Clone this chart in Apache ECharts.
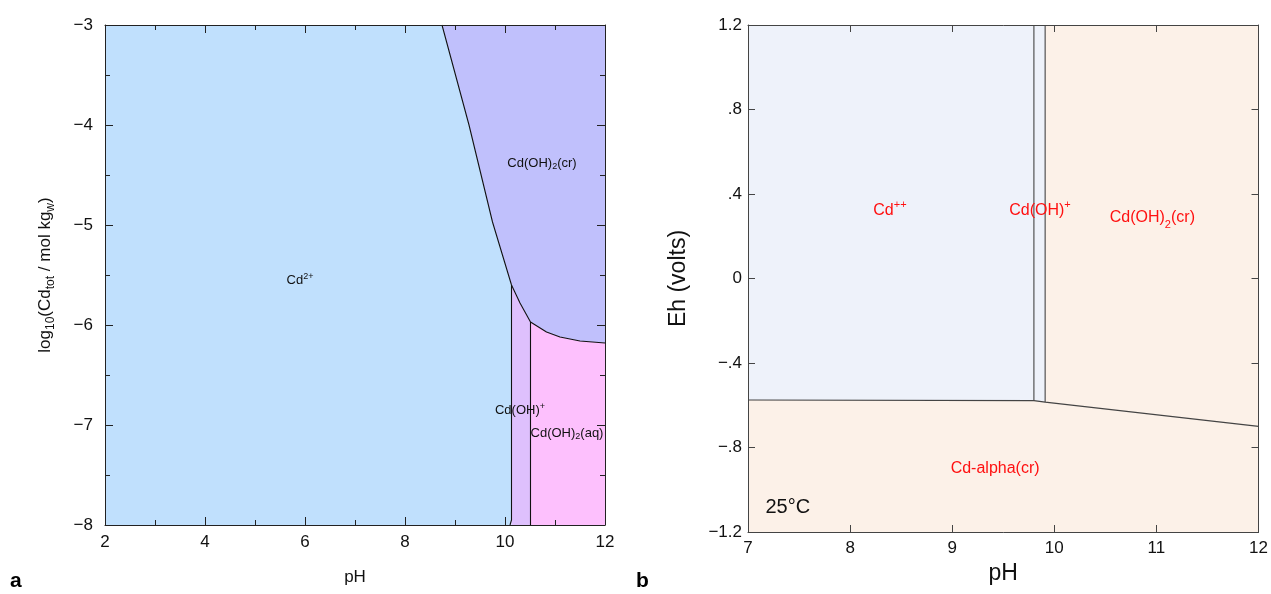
<!DOCTYPE html>
<html>
<head>
<meta charset="utf-8">
<script src="https://cdn.jsdelivr.net/npm/echarts@6/dist/echarts.min.js"></script>
<style>
html,body{margin:0;padding:0;background:#fff;}
#c{width:1271px;height:594px;}
</style>
</head>
<body>
<div id="c"></div>
<script>
// ---------- Panel a : log10(Cd_tot) vs pH ----------
const aXRange = [2, 12];
const aYRange = [-8, -3];
// upper boundary (solubility of Cd(OH)2(cr))
const aSolubility = [[8.74,-3],[9.28,-4],[9.75,-4.97],[10.13,-5.6],[10.3,-5.78],[10.51,-5.97],[10.83,-6.07],[11.1,-6.12],[11.5,-6.16],[12,-6.18]];
// Cd2+ | Cd(OH)+ boundary
const aCdOHplusLeft = [[10.13,-5.6],[10.13,-7.95],[10.1,-8]];
// Cd(OH)+ | Cd(OH)2(aq) boundary
const aCdOHplusRight = [[10.51,-5.97],[10.51,-8]];

// ---------- Panel b : Eh vs pH ----------
const bXRange = [7, 12];
const bYRange = [-1.2, 1.2];
const bBoundCdPP = [[9.80,1.2],[9.80,-0.578]];
const bBoundCdOH = [[9.91,1.2],[9.91,-0.585]];
const bBoundMetal = [[7,-0.575],[9.80,-0.578],[9.91,-0.585],[12,-0.70]];

// regions built from the arrays above
const iKink = 3, iAq = 5;
const aRegions = [
  {color:'#C0E0FD', pts: [[2,-3]].concat(aSolubility.slice(0,iKink+1)).concat([[10.13,-8],[2,-8]])},
  {color:'#C0C0FC', pts: aSolubility.concat([[12,-3]])},
  {color:'#DEC0FD', pts: aSolubility.slice(iKink,iAq+1).concat([[10.51,-8],[10.13,-8]])},
  {color:'#FDC0FD', pts: aSolubility.slice(iAq).concat([[12,-8],[10.51,-8]])}
];
const bRegions = [
  {color:'#EEF2FA', pts: [[7,1.2],bBoundCdOH[0],bBoundCdOH[1],bBoundMetal[1],bBoundMetal[0]]},
  {color:'#FCF1E8', pts: [bBoundCdOH[0],[12,1.2],bBoundMetal[3],bBoundMetal[2]]},
  {color:'#FCF1E8', pts: bBoundMetal.concat([[12,-1.2],[7,-1.2]])}
];

const FONT = '"Liberation Sans", Arial, Helvetica, sans-serif';
const minusFmt = v => (v < 0 ? '\u2212' + Math.abs(v) : String(v));
const dotFmt = v => {
  const r = Math.round(v*10)/10;
  if (r === 0) return '0';
  const s = Math.abs(r).toString().replace(/^0\./,'.');
  return (r < 0 ? '\u2212' : '') + s;
};

function polySeries(regions, xi) {
  return {
    type:'custom', xAxisIndex:xi, yAxisIndex:xi, silent:true, z:1,
    data: regions.map((r,i)=>[r.pts[0][0], r.pts[0][1], i]),
    renderItem: (params, api) => {
      const r = regions[params.dataIndex];
      return {type:'polygon', shape:{points: r.pts.map(p=>api.coord(p))}, style:{fill:r.color, stroke:null}};
    }
  };
}
function lineSeries(data, xi, color) {
  return {type:'line', xAxisIndex:xi, yAxisIndex:xi, data:data, showSymbol:false, symbol:'none',
    silent:true, z:3, lineStyle:{color:color, width:1.1}, animation:false};
}
function labelSeries(items, xi, color, size, rich) {
  return {type:'scatter', xAxisIndex:xi, yAxisIndex:xi, symbolSize:0, silent:true, z:5,
    itemStyle:{opacity:1},
    data: items.map(it=>({value:it.at, name:it.text})),
    label:{show:true, position:'inside', formatter: p=>p.name, color:color, fontSize:size, fontFamily:FONT, rich:rich, opacity:1}};
}

const richA = {
  n:{fontSize:13, color:'#111', fontFamily:FONT, lineHeight:18, verticalAlign:'middle'},
  sup:{fontSize:9, color:'#111', fontFamily:FONT, lineHeight:18, verticalAlign:'top', padding:[1,0,0,0]},
  sub:{fontSize:9, color:'#111', fontFamily:FONT, lineHeight:18, verticalAlign:'bottom', padding:[0,0,1,0]}
};
const RED = '#FF1010';
const richB = {
  n:{fontSize:16, color:RED, fontFamily:FONT, lineHeight:24, verticalAlign:'middle'},
  sup:{fontSize:11, color:RED, fontFamily:FONT, lineHeight:24, verticalAlign:'top', padding:[1,0,0,0]},
  sub:{fontSize:11, color:RED, fontFamily:FONT, lineHeight:24, verticalAlign:'bottom', padding:[0,0,0,0]}
};

const aLabels = [
  {at:[5.9,-5.55], text:'{n|Cd}{sup|2+}'},
  {at:[10.74,-4.38], text:'{n|Cd(OH)}{sub|2}{n|(cr)}'},
  {at:[10.3,-6.85], text:'{n|Cd(OH)}{sup|+}'},
  {at:[11.24,-7.08], text:'{n|Cd(OH)}{sub|2}{n|(aq)}'}
];
const bLabels = [
  {at:[8.39,0.32], text:'{n|Cd}{sup|++}'},
  {at:[9.86,0.32], text:'{n|Cd(OH)}{sup|+}'},
  {at:[10.96,0.286], text:'{n|Cd(OH)}{sub|2}{n|(cr)}'},
  {at:[9.42,-0.90], text:'{n|Cd-alpha(cr)}'}
];

function axisPair(kind, gi, range, interval, opts) {
  const base = {
    gridIndex:gi, type:'value', min:range[0], max:range[1], interval:interval, z:10,
    axisLine:{show:true, onZero:false, lineStyle:{color:opts.lineColor, width:1}},
    axisTick:{show:true, inside:true, length:opts.tickLen, lineStyle:{color:opts.lineColor}},
    minorTick:{show:!!opts.minor, splitNumber:opts.minor||5, length:opts.minorLen||4, lineStyle:{color:opts.lineColor}},
    splitLine:{show:false}, minorSplitLine:{show:false}
  };
  const main = Object.assign({}, base, {
    position: kind==='x' ? 'bottom' : 'left',
    axisLabel:{show:true, margin:opts.labelMargin, color:'#111', fontSize:opts.labelSize, fontFamily:FONT, formatter:opts.fmt},
    name:opts.name, nameLocation:'middle', nameGap:opts.nameGap,
    nameTextStyle:Object.assign({color:'#111', fontSize:opts.nameSize, fontFamily:FONT}, opts.nameRich ? {rich:opts.nameRich} : {})
  });
  const mirror = Object.assign({}, base, {
    position: kind==='x' ? 'top' : 'right', axisLabel:{show:false}
  });
  return [main, mirror];
}

const xa = axisPair('x', 0, aXRange, 2, {lineColor:'#222', tickLen:8, minor:2, minorLen:5, labelMargin:9, labelSize:17, fmt:minusFmt, name:'pH', nameGap:44, nameSize:17});
const ya = axisPair('y', 0, aYRange, 1, {lineColor:'#222', tickLen:8, minor:2, minorLen:5, labelMargin:12, labelSize:17, fmt:minusFmt,
  name:'{n|log}{s|10}{n|(Cd}{s|tot}{n| / mol kg}{s|w}{n|)}', nameGap:48, nameSize:17,
  nameRich:{n:{fontSize:17, fontFamily:FONT, color:'#111', lineHeight:24, verticalAlign:'middle'},
            s:{fontSize:12, fontFamily:FONT, color:'#111', lineHeight:24, verticalAlign:'bottom'}}});
const xb = axisPair('x', 1, bXRange, 1, {lineColor:'#444', tickLen:7, labelMargin:8, labelSize:17, fmt:v=>String(v), name:'pH', nameGap:27, nameSize:23});
const yb = axisPair('y', 1, bYRange, 0.4, {lineColor:'#444', tickLen:7, labelMargin:6, labelSize:17, fmt:dotFmt, name:'Eh (volts)', nameGap:58, nameSize:23});

const option = {
  animation:false,
  backgroundColor:'#fff',
  grid:[
    {left:105, top:25, width:500, height:500, containLabel:false},
    {left:748, top:25, width:512, height:507, containLabel:false}
  ],
  xAxis:[xa[0], xa[1], xb[0], xb[1]],
  yAxis:[ya[0], ya[1], yb[0], yb[1]],
  series:[
    polySeries(aRegions, 0),
    lineSeries(aSolubility, 0, '#111'),
    lineSeries(aCdOHplusLeft, 0, '#111'),
    lineSeries(aCdOHplusRight, 0, '#111'),
    labelSeries(aLabels, 0, '#111', 13, richA),
    polySeries(bRegions, 2),
    lineSeries(bBoundCdPP, 2, '#444'),
    lineSeries(bBoundCdOH, 2, '#444'),
    lineSeries(bBoundMetal, 2, '#444'),
    labelSeries(bLabels, 2, RED, 16, richB),
    {type:'scatter', xAxisIndex:2, yAxisIndex:2, symbolSize:0, silent:true, z:5, itemStyle:{opacity:1},
     data:[{value:[7.39,-1.086], name:'25°C'}],
     label:{show:true, position:'inside', formatter:p=>p.name, color:'#111', fontSize:20, fontFamily:FONT, opacity:1}}
  ],
  graphic:[
    {type:'text', left:10, top:571, style:{text:'a', font:'bold 21px ' + FONT, fill:'#000'}},
    {type:'text', left:636, top:571, style:{text:'b', font:'bold 21px ' + FONT, fill:'#000'}}
  ]
};
const chart = echarts.init(document.getElementById('c'), null, {renderer:'canvas'});
chart.setOption(option);
</script>
</body>
</html>
